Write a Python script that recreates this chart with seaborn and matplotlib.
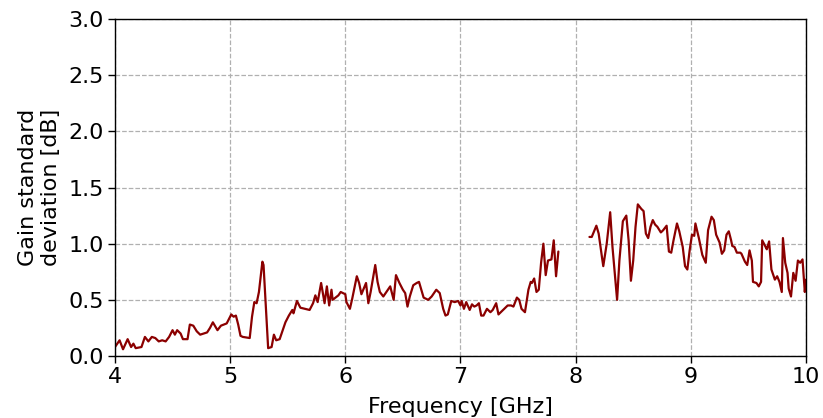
import numpy as np
import pandas as pd
import matplotlib
matplotlib.use("Agg")
import matplotlib.pyplot as plt
import seaborn as sns

# values (frequency in GHz, gain std in dB)
freq_low = [4.00, 4.04, 4.07, 4.11, 4.14, 4.16, 4.18, 4.23, 4.26, 4.29,
            4.32, 4.35, 4.38, 4.41, 4.44, 4.47, 4.50, 4.52, 4.54, 4.57,
            4.59, 4.63, 4.65, 4.68, 4.71, 4.74, 4.80, 4.825, 4.85, 4.89,
            4.92, 4.97, 5.01, 5.03, 5.05, 5.07, 5.09, 5.11, 5.17, 5.19,
            5.21, 5.23, 5.25, 5.28, 5.29, 5.31, 5.33, 5.36, 5.38, 5.40,
            5.43, 5.48, 5.51, 5.54, 5.55, 5.58, 5.61, 5.69, 5.72, 5.74,
            5.76, 5.79, 5.82, 5.84, 5.86, 5.88, 5.89, 5.94, 5.96, 6.00,
            6.01, 6.04, 6.06, 6.10, 6.12, 6.14, 6.18, 6.20, 6.22, 6.26,
            6.28, 6.30, 6.33, 6.35, 6.39, 6.42, 6.44, 6.47, 6.50, 6.52,
            6.54, 6.56, 6.59, 6.62, 6.64, 6.66, 6.68, 6.72, 6.75, 6.79,
            6.82, 6.85, 6.87, 6.89, 6.92, 6.95, 6.98, 7.00, 7.01, 7.03,
            7.05, 7.08, 7.10, 7.12, 7.14, 7.16, 7.18, 7.20, 7.23, 7.26,
            7.28, 7.31, 7.33, 7.38, 7.41, 7.44, 7.46, 7.49, 7.51, 7.53,
            7.56, 7.59, 7.61, 7.62, 7.64, 7.66, 7.68, 7.70, 7.72, 7.74,
            7.76, 7.79, 7.81, 7.83, 7.85]
std_low = [0.08, 0.14, 0.06, 0.15, 0.08, 0.11, 0.07, 0.08, 0.17, 0.13,
           0.17, 0.16, 0.13, 0.14, 0.13, 0.17, 0.23, 0.19, 0.23, 0.20,
           0.15, 0.15, 0.28, 0.27, 0.22, 0.19, 0.21, 0.25, 0.30, 0.23,
           0.27, 0.29, 0.37, 0.35, 0.36, 0.28, 0.18, 0.17, 0.16, 0.35,
           0.48, 0.47, 0.57, 0.84, 0.81, 0.44, 0.07, 0.08, 0.19, 0.14,
           0.15, 0.30, 0.36, 0.41, 0.38, 0.49, 0.43, 0.41, 0.47, 0.54,
           0.48, 0.65, 0.47, 0.62, 0.45, 0.59, 0.50, 0.54, 0.57, 0.55,
           0.48, 0.42, 0.51, 0.71, 0.65, 0.55, 0.65, 0.47, 0.57, 0.81,
           0.66, 0.57, 0.53, 0.56, 0.62, 0.50, 0.72, 0.65, 0.59, 0.56,
           0.44, 0.53, 0.63, 0.65, 0.66, 0.59, 0.52, 0.50, 0.53, 0.59,
           0.56, 0.42, 0.36, 0.37, 0.49, 0.48, 0.49, 0.45, 0.49, 0.42,
           0.48, 0.41, 0.46, 0.44, 0.45, 0.47, 0.36, 0.36, 0.42, 0.39,
           0.41, 0.47, 0.37, 0.42, 0.45, 0.45, 0.44, 0.52, 0.50, 0.42,
           0.39, 0.59, 0.66, 0.65, 0.69, 0.57, 0.59, 0.83, 1.00, 0.72,
           0.85, 0.86, 1.03, 0.71, 0.93]

freq_high = [8.12, 8.14, 8.18, 8.20, 8.23, 8.24, 8.27, 8.30, 8.32, 8.36,
             8.38, 8.41, 8.44, 8.46, 8.48, 8.50, 8.52, 8.54, 8.57, 8.59,
             8.61, 8.63, 8.65, 8.67, 8.69, 8.71, 8.74, 8.76, 8.79, 8.81,
             8.83, 8.85, 8.88, 8.90, 8.93, 8.95, 8.97, 8.99, 9.01, 9.03,
             9.04, 9.07, 9.10, 9.13, 9.15, 9.18, 9.20, 9.22, 9.25, 9.27,
             9.29, 9.31, 9.33, 9.35, 9.36, 9.38, 9.40, 9.43, 9.44, 9.47,
             9.49, 9.51, 9.53, 9.54, 9.57, 9.59, 9.61, 9.62, 9.65, 9.66,
             9.68, 9.70, 9.73, 9.75, 9.77, 9.79, 9.80, 9.82, 9.84, 9.85,
             9.87, 9.89, 9.91, 9.93, 9.95, 9.97, 9.99, 10.00]
std_high = [1.06, 1.06, 1.16, 1.09, 0.87, 0.80, 1.00, 1.28, 0.97, 0.50,
            0.85, 1.20, 1.25, 1.03, 0.67, 0.85, 1.15, 1.35, 1.31, 1.29,
            1.09, 1.05, 1.15, 1.21, 1.17, 1.15, 1.10, 1.12, 1.16, 0.93,
            0.92, 1.03, 1.18, 1.11, 0.97, 0.80, 0.77, 0.94, 1.08, 1.07,
            1.18, 1.05, 0.90, 0.83, 1.12, 1.24, 1.21, 1.08, 1.01, 0.91,
            0.94, 1.08, 1.11, 1.03, 0.98, 0.97, 0.92, 0.92, 0.91, 0.84,
            0.81, 0.94, 0.85, 0.66, 0.65, 0.62, 0.66, 1.03, 0.97, 0.95,
            1.02, 0.77, 0.68, 0.71, 0.66, 0.57, 1.05, 0.83, 0.74, 0.60,
            0.53, 0.74, 0.67, 0.85, 0.83, 0.86, 0.57, 0.68]

df = pd.concat([
    pd.DataFrame({"freq": freq_low, "std": std_low, "seg": 0}),
    pd.DataFrame({"freq": freq_high, "std": std_high, "seg": 1}),
])

sns.set_style("ticks", {
    "axes.grid": True,
    "grid.linestyle": "--",
    "grid.color": "#b0b0b0",
    "axes.edgecolor": "black",
    "axes.labelcolor": "black",
    "text.color": "black",
    "xtick.color": "black",
    "ytick.color": "black",
    "xtick.direction": "out",
    "ytick.direction": "out",
})
plt.rcParams["font.family"] = ["DejaVu Sans"]
plt.rcParams["font.size"] = 16

fig = plt.figure(figsize=(8.23, 4.18), dpi=100)
ax = fig.add_axes([0.1397, 0.1483, 0.8396, 0.8062])

sns.lineplot(data=df, x="freq", y="std", units="seg", estimator=None,
             color="#8b0000", linewidth=1.6, ax=ax)

ax.set_xlim(4, 10)
ax.set_ylim(0, 3.0)
ax.set_xticks([4, 5, 6, 7, 8, 9, 10])
ax.set_yticks(np.arange(0, 3.01, 0.5))
ax.set_yticklabels([f"{v:.1f}" for v in np.arange(0, 3.01, 0.5)])
ax.tick_params(labelsize=16, length=5, width=1, colors="black", pad=3)
for s in ax.spines.values():
    s.set_linewidth(1)
    s.set_color("black")
ax.grid(True, linestyle="--", color="#b0b0b0", linewidth=0.9)

ax.set_xlabel("Frequency [GHz]", fontsize=16, labelpad=7, color="black")
ax.set_ylabel("Gain standard\ndeviation [dB]", fontsize=16, labelpad=5,
              color="black")

fig.savefig("out.png", dpi=100)
